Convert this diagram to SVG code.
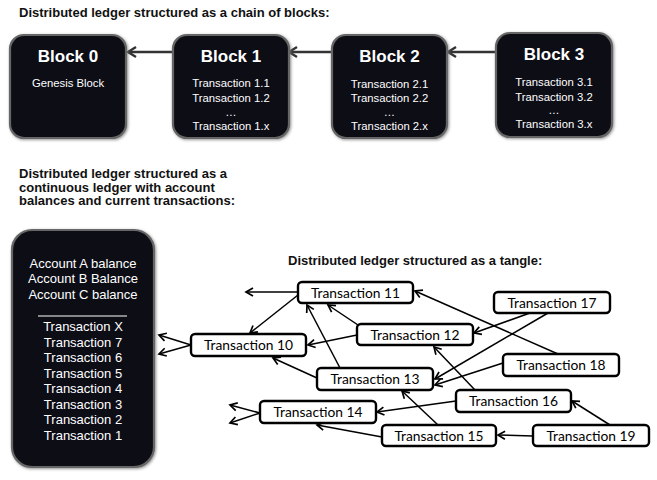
<svg xmlns="http://www.w3.org/2000/svg" width="657" height="480" viewBox="0 0 657 480">
<defs>
<filter id="sh" x="-10%" y="-10%" width="125%" height="125%">
<feDropShadow dx="1" dy="1" stdDeviation="1.6" flood-color="#777" flood-opacity="0.8"/>
</filter>
<marker id="ahb" markerUnits="userSpaceOnUse" markerWidth="16" markerHeight="16" viewBox="0 0 16 16" refX="13" refY="8" orient="auto">
<path d="M5,3 L13,8 L5,13" fill="none" stroke="#333" stroke-width="2.4"/>
</marker>
<marker id="aht" markerUnits="userSpaceOnUse" markerWidth="14" markerHeight="14" viewBox="0 0 14 14" refX="11" refY="7" orient="auto">
<path d="M4,3 L11,7 L4,11" fill="none" stroke="#000" stroke-width="1.7"/>
</marker>
<style>
.h{font-family:"Liberation Sans",Arial,sans-serif;font-weight:bold;font-size:13px;fill:#111}
.blk{fill:#0e1013;stroke:#666;stroke-width:2.2;filter:url(#sh)}
.bt{font-family:"Liberation Sans",Arial,sans-serif;font-weight:bold;font-size:17px;fill:#fff;text-anchor:middle}
.bs{font-family:"Liberation Sans",Arial,sans-serif;font-size:11.3px;fill:#fff;text-anchor:middle}
.ls{font-family:"Liberation Sans",Arial,sans-serif;font-size:13px;fill:#fff;text-anchor:middle}
.tx{fill:#fff;stroke:#000;stroke-width:2.4}
.tt{font-family:Lato,"Open Sans",sans-serif;font-size:13.8px;fill:#000;text-anchor:middle}
.ca{stroke:#333;stroke-width:2.4;fill:none;marker-end:url(#ahb)}
.ct{stroke:#000;stroke-width:1.5;fill:none;marker-end:url(#aht)}
</style>
</defs>
<rect width="657" height="480" fill="#fff"/>

<text class="h" x="19" y="17">Distributed ledger structured as a chain of blocks:</text>
<text class="h" x="19" y="178">Distributed ledger structured as a</text>
<text class="h" x="19" y="191.5">continuous ledger with account</text>
<text class="h" x="19" y="205">balances and current transactions:</text>
<text class="h" x="288" y="265">Distributed ledger structured as a tangle:</text>

<g id="connectors">
<path class="ca" d="M173,52 L128,52"/>
<path class="ca" d="M332,52 L289,52"/>
<path class="ca" d="M496,52 L448,52"/>
<path class="ct" d="M298,292 L246,292"/>
<path class="ct" d="M298,295 L250,333"/>
<path class="ct" d="M358,325 L328,305"/>
<path class="ct" d="M357,335 L308,345"/>
<path class="ct" d="M340,368 L307,305"/>
<path class="ct" d="M317,378 L273,358"/>
<path class="ct" d="M191,345 L159,335"/>
<path class="ct" d="M191,345 L159,354"/>
<path class="ct" d="M260,413 L230,405"/>
<path class="ct" d="M260,413 L230,423"/>
<path class="ct" d="M382,437 L317,425"/>
<path class="ct" d="M456,401 L377,412"/>
<path class="ct" d="M438,425 L402,391"/>
<path class="ct" d="M475,390 L434,347"/>
<path class="ct" d="M530,313 L474,333"/>
<path class="ct" d="M548,313 L435,379"/>
<path class="ct" d="M503,363 L435,385"/>
<path class="ct" d="M558,354 L415,291"/>
<path class="ct" d="M533,436 L498,435"/>
<path class="ct" d="M610,425 L572,401"/>
</g>

<g id="block0">
<rect class="blk" x="10" y="35" width="116" height="103" rx="14"/>
<text class="bt" x="68" y="62">Block 0</text>
<text class="bs" x="68" y="87">Genesis Block</text>
</g>
<g id="block1">
<rect class="blk" x="173" y="35" width="116" height="103" rx="14"/>
<text class="bt" x="231" y="62">Block 1</text>
<text class="bs" x="231" y="87">Transaction 1.1</text>
<text class="bs" x="231" y="102">Transaction 1.2</text>
<text class="bs" x="231" y="116">…</text>
<text class="bs" x="231" y="130">Transaction 1.x</text>
</g>
<g id="block2">
<rect class="blk" x="332" y="35" width="115" height="103" rx="14"/>
<text class="bt" x="389.5" y="62">Block 2</text>
<text class="bs" x="389.5" y="88">Transaction 2.1</text>
<text class="bs" x="389.5" y="102">Transaction 2.2</text>
<text class="bs" x="389.5" y="116">…</text>
<text class="bs" x="389.5" y="130">Transaction 2.x</text>
</g>
<g id="block3">
<rect class="blk" x="496" y="33" width="116" height="104" rx="14"/>
<text class="bt" x="554" y="60">Block 3</text>
<text class="bs" x="554" y="86">Transaction 3.1</text>
<text class="bs" x="554" y="101">Transaction 3.2</text>
<text class="bs" x="554" y="114">…</text>
<text class="bs" x="554" y="128">Transaction 3.x</text>
</g>

<g id="ledger">
<rect class="blk" x="12" y="230" width="142" height="237" rx="20"/>
<text class="ls" x="83" y="268">Account A balance</text>
<text class="ls" x="83" y="283">Account B Balance</text>
<text class="ls" x="83" y="299">Account C balance</text>
<line x1="38" y1="316" x2="127" y2="316" stroke="#fff" stroke-width="1"/>
<text class="ls" x="83" y="331">Transaction X</text>
<text class="ls" x="83" y="347">Transaction 7</text>
<text class="ls" x="83" y="362">Transaction 6</text>
<text class="ls" x="83" y="378">Transaction 5</text>
<text class="ls" x="83" y="393">Transaction 4</text>
<text class="ls" x="83" y="409">Transaction 3</text>
<text class="ls" x="83" y="424">Transaction 2</text>
<text class="ls" x="83" y="440">Transaction 1</text>
</g>

<g id="t10"><rect class="tx" x="191" y="334" width="115" height="22" rx="4"/><text class="tt" x="248.5" y="350">Transaction 10</text></g>
<g id="t11"><rect class="tx" x="298" y="282" width="115" height="21" rx="4"/><text class="tt" x="355.5" y="297.5">Transaction 11</text></g>
<g id="t12"><rect class="tx" x="357" y="324" width="116" height="21" rx="4"/><text class="tt" x="415" y="339.5">Transaction 12</text></g>
<g id="t13"><rect class="tx" x="317" y="368" width="116" height="22" rx="4"/><text class="tt" x="375" y="384">Transaction 13</text></g>
<g id="t14"><rect class="tx" x="260" y="401" width="116" height="22" rx="4"/><text class="tt" x="318" y="417">Transaction 14</text></g>
<g id="t15"><rect class="tx" x="382" y="425" width="114" height="21" rx="4"/><text class="tt" x="439" y="440.5">Transaction 15</text></g>
<g id="t16"><rect class="tx" x="456" y="390" width="115" height="22" rx="4"/><text class="tt" x="513.5" y="406">Transaction 16</text></g>
<g id="t17"><rect class="tx" x="494" y="292" width="116" height="21" rx="4"/><text class="tt" x="552" y="307.5">Transaction 17</text></g>
<g id="t18"><rect class="tx" x="503" y="354" width="116" height="22" rx="4"/><text class="tt" x="561" y="370">Transaction 18</text></g>
<g id="t19"><rect class="tx" x="533" y="425" width="116" height="21" rx="4"/><text class="tt" x="591" y="440.5">Transaction 19</text></g>
</svg>
